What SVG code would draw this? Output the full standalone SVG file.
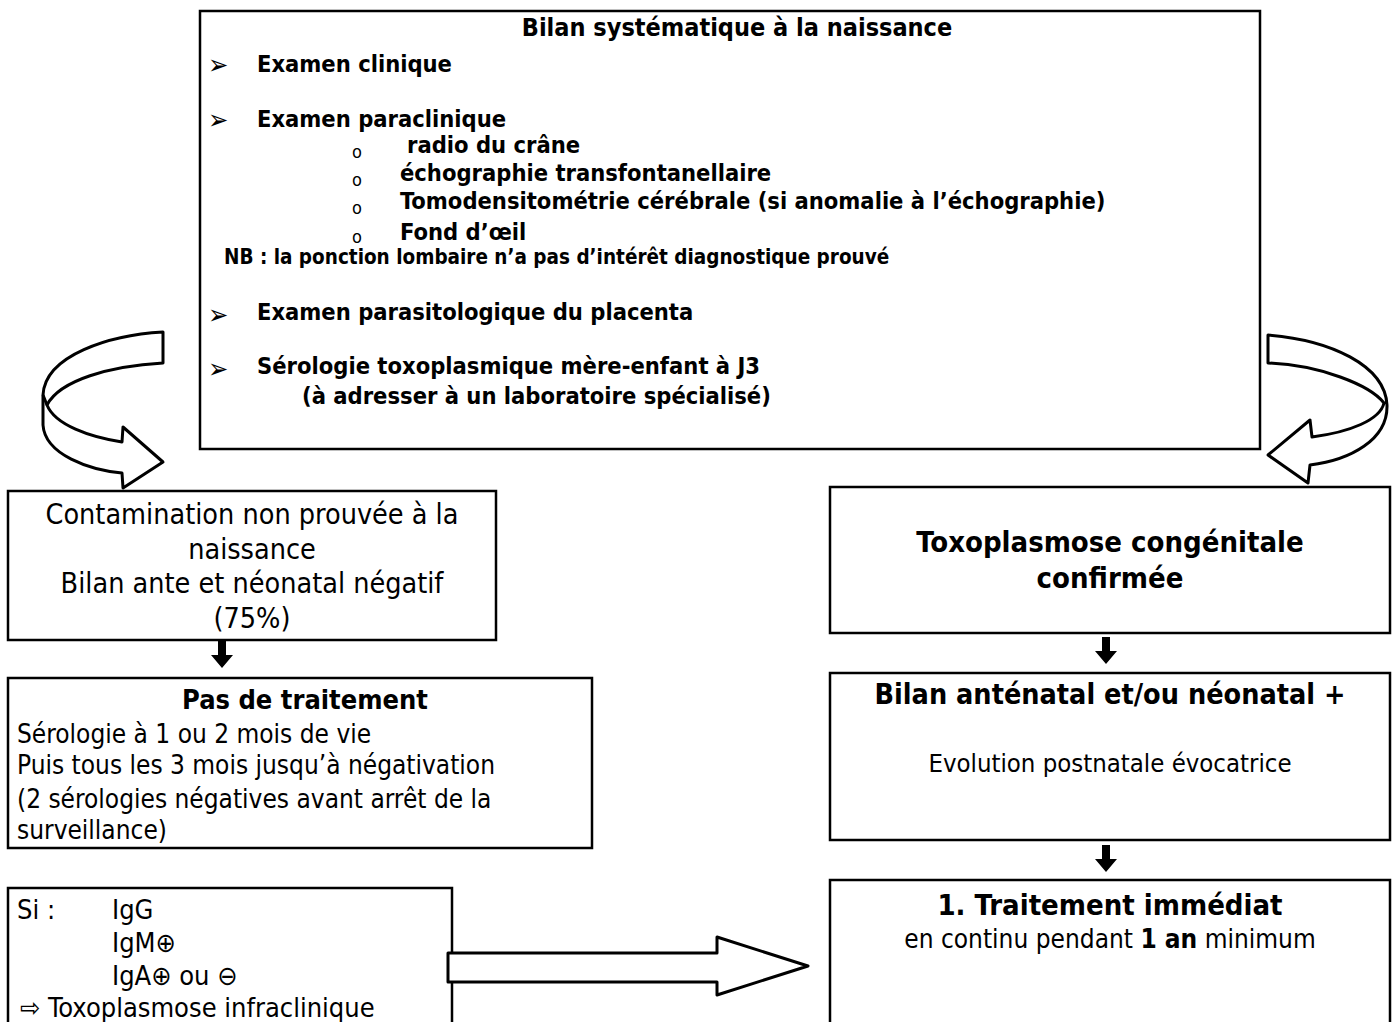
<svg xmlns="http://www.w3.org/2000/svg" width="1397" height="1022" viewBox="0 0 1397 1022">
<style>
.box{fill:#fff;stroke:#000;stroke-width:2.5}
.t{font-family:"DejaVu Sans Condensed","DejaVu Sans",sans-serif;fill:#000}
.b{font-weight:bold}
.c{text-anchor:middle}
.bul{font-size:27px;font-weight:normal}
.o{font-size:18px;font-weight:normal}
.ribbon{fill:#fff;stroke:#000;stroke-width:3;stroke-linejoin:round}
.down{fill:#000}
</style>
<rect width="1397" height="1022" fill="#fff"/>
<g id="bilan">
<rect class="box" x="200" y="11" width="1060" height="438"/>
<text class="t b c" x="737" y="36" font-size="25">Bilan systématique à la naissance</text>
<g class="t b" font-size="23.5">
<text class="bul" x="208" y="74">➢</text>
<text x="257" y="72">Examen clinique</text>
<text class="bul" x="208" y="129">➢</text>
<text x="257" y="127">Examen paraclinique</text>
<text class="o" x="352" y="158">o</text>
<text x="407" y="153">radio du crâne</text>
<text class="o" x="352" y="186">o</text>
<text x="400" y="181">échographie transfontanellaire</text>
<text class="o" x="352" y="214">o</text>
<text x="400" y="209">Tomodensitométrie cérébrale (si anomalie à l’échographie)</text>
<text class="o" x="352" y="243">o</text>
<text x="400" y="240">Fond d’œil</text>
<text x="224" y="264" font-size="20.5">NB : la ponction lombaire n’a pas d’intérêt diagnostique prouvé</text>
<text class="bul" x="208" y="324">➢</text>
<text x="257" y="320">Examen parasitologique du placenta</text>
<text class="bul" x="208" y="378">➢</text>
<text x="257" y="374">Sérologie toxoplasmique mère-enfant à J3</text>
<text x="302" y="404">(à adresser à un laboratoire spécialisé)</text>
</g>
</g>
<g id="non-prouvee">
<rect class="box" x="8" y="491" width="488" height="149"/>
<g class="t c" font-size="28.5">
<text x="252" y="524">Contamination non prouvée à la</text>
<text x="252" y="559">naissance</text>
<text x="252" y="593">Bilan ante et néonatal négatif</text>
<text x="252" y="628">(75%)</text>
</g>
</g>
<g id="pas-traitement">
<rect class="box" x="8" y="678" width="584" height="170"/>
<text class="t b c" x="305" y="709" font-size="27">Pas de traitement</text>
<g class="t" font-size="26">
<text x="17" y="743">Sérologie à 1 ou 2 mois de vie</text>
<text x="17" y="774">Puis tous les 3 mois jusqu’à négativation</text>
<text x="17" y="808">(2 sérologies négatives avant arrêt de la</text>
<text x="17" y="839">surveillance)</text>
</g>
</g>
<g id="si-igm">
<rect class="box" x="8" y="888" width="444" height="140"/>
<g class="t" font-size="27">
<text x="17" y="919">Si :</text>
<text x="112" y="919">IgG</text>
<text x="112" y="952">IgM⊕</text>
<text x="112" y="985">IgA⊕ ou ⊖</text>
<text x="20" y="1017">⇨ Toxoplasmose infraclinique</text>
</g>
</g>
<g id="confirmee">
<rect class="box" x="830" y="487" width="560" height="146"/>
<g class="t b c" font-size="29">
<text x="1110" y="552">Toxoplasmose congénitale</text>
<text x="1110" y="588">confirmée</text>
</g>
</g>
<g id="bilan-positif">
<rect class="box" x="830" y="673" width="560" height="167"/>
<text class="t b c" x="1110" y="704" font-size="28.5">Bilan anténatal et/ou néonatal +</text>
<text class="t c" x="1110" y="772" font-size="25.5">Evolution postnatale évocatrice</text>
</g>
<g id="traitement">
<rect class="box" x="830" y="880" width="560" height="148"/>
<text class="t b c" x="1110" y="915" font-size="29">1. Traitement immédiat</text>
<text class="t c" x="1110" y="948" font-size="26">en continu pendant <tspan font-weight="bold">1 an</tspan> minimum</text>
</g>
<g id="connectors">
<path class="ribbon" d="M163,332 C110,335 45,355 43,395 L43,425 C45,455 90,470 122,473 L123,488 L163,462 L123,427 L122,442 C90,437 55,425 47,405 C60,380 110,366 163,363 Z"/>
<path class="ribbon" fill="none" d="M47,405 L43,395"/>
<path class="ribbon" d="M1268,335 C1330,340 1385,365 1387,405 C1388,440 1350,460 1310,465 L1308,483 L1268,455 L1310,420 L1312,437 C1350,432 1380,420 1384,403 C1370,385 1320,365 1268,363 Z"/>
<path class="ribbon" d="M448,953 L717,953 L717,937 L808,966 L717,995 L717,982 L448,982 Z"/>
<path class="down" d="M218,641 L226,641 L226,655 L233,655 L222,668 L211,655 L218,655 Z"/>
<path class="down" d="M1102,637 L1110,637 L1110,651 L1117,651 L1106,664 L1095,651 L1102,651 Z"/>
<path class="down" d="M1102,845 L1110,845 L1110,859 L1117,859 L1106,872 L1095,859 L1102,859 Z"/>
</g>
</svg>
